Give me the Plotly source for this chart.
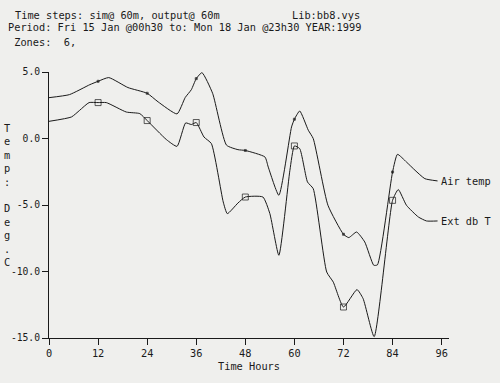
import plotly.graph_objects as go

# ---- data ----
air_hours = [0, 5, 10, 12, 14.6, 19.3, 24, 26.7, 31.3, 33.3, 34.8, 36, 37.4, 40, 43.4, 46.2, 48,
             52.8, 53.6, 56.2, 59.3, 60, 61.3, 63.4, 64.6, 68.2, 72, 73.3, 75.2, 77.2, 79.4, 80.3,
             84, 85.2, 87.4, 89.5, 91.9, 95]
air_temp = [3.07, 3.3, 4.05, 4.3, 4.58, 3.83, 3.4, 2.75, 1.85, 3.08, 3.67, 4.5, 4.95, 3.4, -0.5, -0.84, -0.9,
            -1.39, -2.14, -4.27, 0.87, 1.45, 2.07, 0.62, 0.0, -5.02, -7.2, -7.45, -7.03, -7.78, -9.53, -9.5,
            -2.52, -1.19, -1.77, -2.39, -3.02, -3.19]

ext_hours = [0, 5.5, 7.5, 9.8, 12, 14, 18.9, 22.2, 24, 28.7, 31.3, 33.4, 34.8, 36, 37.9, 39.7, 42.6, 43.6,
             46.2, 48, 52.3, 54, 56.2, 58.9, 60, 61.3, 63.2, 64.6, 67.9, 69.5, 72, 75.3, 76.8, 79.5,
             84, 85.4, 87.4, 90.3, 92.3, 95]
ext_db_t = [1.29, 1.62, 2.12, 2.7, 2.7, 2.7, 1.99, 1.87, 1.35, -0.08, -0.59, 1.17, 1.05, 1.2, 0.11, -0.38, -4.77, -5.65,
            -4.85, -4.4, -4.4, -5.65, -8.78, -2.39, -0.56, -0.76, -3.27, -3.77, -10.04, -10.79, -12.67, -11.36, -12.04, -14.9,
            -4.65, -3.84, -5.02, -5.9, -6.2, -6.2]

series_names = ["Air temp", "Ext db T"]
x_ticks = [0, 12, 24, 36, 48, 60, 72, 84, 96]
y_ticks = [5, 0, -5, -10, -15]
y_tick_labels = ["5.0", "0.0", "-5.0", "-10.0", "-15.0"]
marker_hours = [12, 24, 36, 48, 60, 72, 84]

header_lines = ["Time steps: sim@ 60m, output@ 60m",
                "Period: Fri 15 Jan @00h30 to: Mon 18 Jan @23h30 YEAR:1999",
                " Zones:  6,"]
lib_text = "Lib:bb8.vys"
y_title = "Temp: Deg.C"
x_title = "Time Hours"

# ---- layout geometry ----
W, H = 500, 383
L, R, T, B = 49.3, 449.0, 71.7, 337.7
FONT = "DejaVu Sans Mono"
FS = 10.3
TFS = 9.7
INK = "#1a1a1a"
BG = "#efefed"


def px2x(px):
    return (px - L) / (R - L)


def py2y(py):
    return (B - py) / (B - T)


fig = go.Figure()

for hrs, vals, sym, size in [(air_hours, air_temp, "square", 2),
                             (ext_hours, ext_db_t, "square-open", 6)]:
    sizes = [size if h in marker_hours else 0 for h in hrs]
    fig.add_trace(go.Scatter(
        x=hrs, y=vals, mode="lines+markers",
        line=dict(color=INK, width=1, shape="spline", smoothing=0.5),
        marker=dict(symbol=sym, size=sizes, color=INK, line=dict(color=INK, width=1)),
        showlegend=False, cliponaxis=False, hoverinfo="skip"))

# series labels at line ends
for name, vals in zip(series_names, [air_temp, ext_db_t]):
    fig.add_annotation(x=95.2, y=vals[-1], xref="x", yref="y", text=name,
                       showarrow=False, xanchor="left", yanchor="middle", xshift=1,
                       font=dict(family=FONT, size=FS, color=INK))

# header
fig.add_annotation(x=px2x(13), y=py2y(14.5), xref="paper", yref="paper", text=header_lines[0],
                   showarrow=False, xanchor="left", yanchor="middle",
                   font=dict(family=FONT, size=FS, color=INK))
fig.add_annotation(x=px2x(6.5), y=py2y(27), xref="paper", yref="paper", text=header_lines[1],
                   showarrow=False, xanchor="left", yanchor="middle",
                   font=dict(family=FONT, size=FS, color=INK))
fig.add_annotation(x=px2x(6.5), y=py2y(41.5), xref="paper", yref="paper", text=header_lines[2].replace(" ", "\u00a0"),
                   showarrow=False, xanchor="left", yanchor="middle",
                   font=dict(family=FONT, size=FS, color=INK))
fig.add_annotation(x=px2x(362), y=py2y(14.5), xref="paper", yref="paper", text=lib_text,
                   showarrow=False, xanchor="right", yanchor="middle",
                   font=dict(family=FONT, size=FS, color=INK))

# vertical stacked y title
fig.add_annotation(x=px2x(7), y=py2y(195), xref="paper", yref="paper",
                   text="<br>".join(c if c != " " else "\u00a0" for c in y_title),
                   showarrow=False, xanchor="center", yanchor="middle", align="center",
                   borderpad=0,
                   font=dict(family=FONT, size=FS, color=INK))

fig.update_layout(
    width=W, height=H,
    margin=dict(l=L, r=W - R, t=T, b=H - B, pad=0),
    paper_bgcolor=BG, plot_bgcolor=BG,
    font=dict(family=FONT, size=FS, color=INK),
    xaxis=dict(range=[0, 97.8], tickvals=x_ticks, ticktext=[str(v) for v in x_ticks],
               tickfont=dict(family=FONT, size=FS),
               showgrid=False, zeroline=False, showline=True, linecolor=INK, linewidth=1,
               ticks="outside", ticklen=6, tickcolor=INK, tickwidth=1,
               title=dict(text=x_title, standoff=4, font=dict(family=FONT, size=FS)),
               fixedrange=True),
    yaxis=dict(range=[-15, 5], tickvals=y_ticks, ticktext=y_tick_labels,
               tickfont=dict(family=FONT, size=TFS),
               showgrid=False, zeroline=False, showline=True, linecolor=INK, linewidth=1,
               ticks="outside", ticklen=6, tickcolor=INK, tickwidth=1,
               fixedrange=True),
)

fig.write_html("out.html",
               config={"displayModeBar": False, "staticPlot": True},
               post_script="document.body.style.margin='0';document.body.style.padding='0';"
                           "document.body.style.background='#efefed';document.body.style.overflow='hidden';")
